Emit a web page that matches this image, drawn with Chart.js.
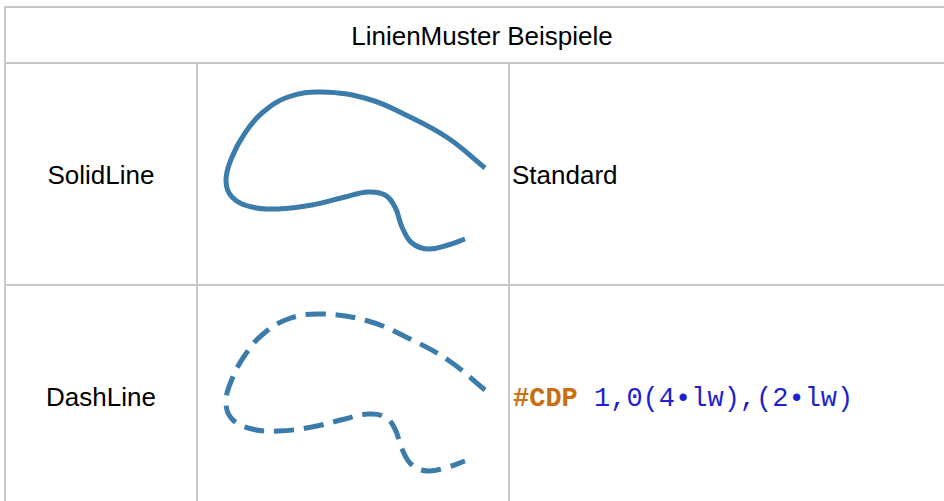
<!DOCTYPE html>
<html>
<head>
<meta charset="utf-8">
<script src="https://cdn.jsdelivr.net/npm/chart.js@4"></script>
<style>
  body { margin: 0; background: #fff; width: 944px; height: 501px; overflow: hidden; position: relative; font-family: "Liberation Sans", Arial, sans-serif; }
  .hl, .vl { position: absolute; background: #c8c8c8; }
  .hl { height: 2px; }
  .vl { width: 2px; }
  .txt { position: absolute; font-size: 26px; color: #000; line-height: 30px; white-space: nowrap; }
  .code { position: absolute; font-family: "Liberation Mono", "Courier New", monospace; font-size: 27px; line-height: 30px; white-space: nowrap; color: #1f1fd0; }
  .code b { color: #c8700f; }
  canvas { position: absolute; }
</style>
</head>
<body>

<!-- table grid -->
<div class="hl" style="left:4px; top:6px; width:940px;"></div>
<div class="hl" style="left:4px; top:62px; width:940px;"></div>
<div class="hl" style="left:4px; top:284px; width:940px;"></div>
<div class="vl" style="left:4px; top:6px; height:495px;"></div>
<div class="vl" style="left:196px; top:62px; height:439px;"></div>
<div class="vl" style="left:508px; top:62px; height:439px;"></div>

<div class="txt" id="title" style="left:6px; width:952px; top:21px; text-align:center;"></div>
<div class="txt" id="name0" style="left:6px; width:190px; top:160px; text-align:center;"></div>
<div class="txt" id="name1" style="left:6px; width:190px; top:382px; text-align:center;"></div>
<div class="txt" id="desc0" style="left:512px; top:160px;"></div>
<div class="code" id="desc1" style="left:513px; top:384px;"></div>

<canvas id="cell0" width="312" height="222" style="left:197px; top:63px;"></canvas>
<canvas id="cell1" width="312" height="222" style="left:197px; top:285px;"></canvas>

<script>
// ==========================================
// DATA
// ==========================================
const titleText = "LinienMuster Beispiele";
const rowNames = ["SolidLine", "DashLine"];
const rowDescs = ["Standard", null];
const codeKeyword = "#CDP";
const codeArgs = "1,0(4\u2022lw),(2\u2022lw)";

// curve points inside the cell (x to the right, y upwards)
const curveX = [288, 251, 211, 171, 125, 91, 65, 48, 35, 29, 35, 55, 81, 115, 148, 171, 188, 198, 205, 215, 231, 251, 268];
const curveY = [117, 147, 169, 186, 193, 188, 172, 152, 128, 105, 88, 78, 76, 80, 88, 93, 90, 78, 58, 42, 36, 40, 46];

// dash pattern: 4*lw on, 2*lw off
const lineWidth = 5;
const dashPatterns = [[], [4 * lineWidth, 2 * lineWidth]];

// ==========================================
// TEXT CELLS
// ==========================================
document.getElementById("title").textContent = titleText;
document.getElementById("name0").textContent = rowNames[0];
document.getElementById("name1").textContent = rowNames[1];
document.getElementById("desc0").textContent = rowDescs[0];
document.getElementById("desc1").innerHTML = "<b>" + codeKeyword + "</b> " + codeArgs;

// ==========================================
// CURVE CELLS
// ==========================================
const points = curveX.map((x, i) => ({ x: x, y: curveY[i] }));

function drawCurve(canvasId, dash) {
    const ctx = document.getElementById(canvasId).getContext('2d');
    new Chart(ctx, {
        type: 'scatter',
        data: {
            datasets: [{
                data: points,
                showLine: true,
                tension: 0.4,
                borderColor: '#3b7caa',
                borderWidth: lineWidth,
                borderDash: dash,
                borderCapStyle: 'butt',
                pointRadius: 0,
                clip: false
            }]
        },
        options: {
            responsive: false,
            animation: false,
            layout: { padding: 0 },
            plugins: { legend: { display: false }, tooltip: { enabled: false } },
            scales: {
                x: { type: 'linear', min: 0, max: 312, display: false },
                y: { type: 'linear', min: 0, max: 222, display: false }
            }
        }
    });
}

drawCurve('cell0', dashPatterns[0]);
drawCurve('cell1', dashPatterns[1]);
</script>
</body>
</html>
